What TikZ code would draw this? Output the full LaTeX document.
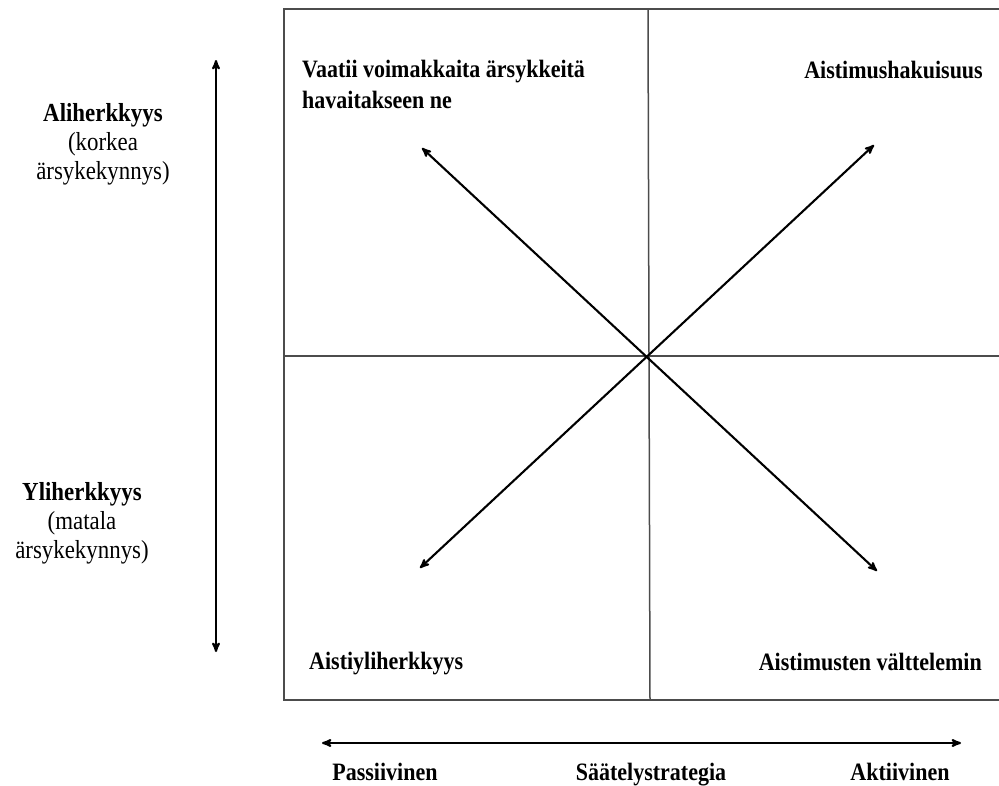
\documentclass[tikz,border=0pt]{standalone}
\usepackage{fontspec}
\setmainfont{Liberation Serif}[FakeStretch=0.88]
\usetikzlibrary{arrows}
\tikzset{
  corner text/.style={
    font=\fontsize{25}{31}\selectfont\bfseries,
    inner sep=0pt
  },
  side text/.style={
    font=\fontsize{26}{29}\selectfont,
    align=center,
    inner sep=0pt
  },
  frame line/.style={
    draw=black!70,
    line width=1.5pt
  },
  dir arrow/.style={
    <->,
    >=stealth',
    line width=2.1pt
  }
}

\begin{document}
\begin{tikzpicture}[x=1pt, y=-1pt]
   \useasboundingbox (0,0) rectangle (999,785);

   % frame and quadrants
   \coordinate (tr) at (999,9);
   \coordinate (tl) at (284,9);
   \coordinate (bl) at (284,700);
   \coordinate (br) at (999,700);
   \coordinate (mt) at (648,9);
   \coordinate (mb) at (650,700);
   \coordinate (ml) at (284,356);
   \coordinate (mr) at (999,356);
   \draw[frame line] (tr) -- (tl) -- (bl) -- (br);
   \draw[frame line] (mt) -- (mb);
   \draw[frame line] (ml) -- (mr);

   % diagonals
   \coordinate (nw) at (422,148);
   \coordinate (se) at (877,571);
   \coordinate (ne) at (874,145);
   \coordinate (sw) at (420,568);
   \path[dir arrow] (nw) edge (se)
                    (ne) edge (sw);

   % axes
   \coordinate (vtop) at (216,60);
   \coordinate (vbot) at (216,652);
   \coordinate (hleft) at (322,743);
   \coordinate (hright) at (961,743);
   \path[dir arrow] (vtop) edge (vbot)
                    (hleft) edge (hright);

   % quadrant labels
   \node[corner text, anchor=west, align=left] (vaatii) at (302,84)
        {Vaatii voimakkaita ärsykkeitä\\havaitakseen ne};
   \node[corner text, anchor=east] (haku) at (983,70) {Aistimushakuisuus};
   \node[corner text, anchor=west] (yli) at (309,664) {Aistiyliherkkyys};
   \node[corner text, anchor=east] (valt) at (982,662) {Aistimusten välttelemin};

   % axis labels
   \node[side text] (aliherk) at (103,144)
        {\textbf{Aliherkkyys}\\(korkea\\ärsykekynnys)};
   \node[side text] (yliherk) at (82,523)
        {\textbf{Yliherkkyys}\\(matala\\ärsykekynnys)};
   \node[corner text, anchor=base] (passiiv) at (385,780) {Passiivinen};
   \node[corner text, anchor=base] (saat) at (651,780) {Säätelystrategia};
   \node[corner text, anchor=base] (aktiiv) at (900,780) {Aktiivinen};
\end{tikzpicture}
\end{document}
